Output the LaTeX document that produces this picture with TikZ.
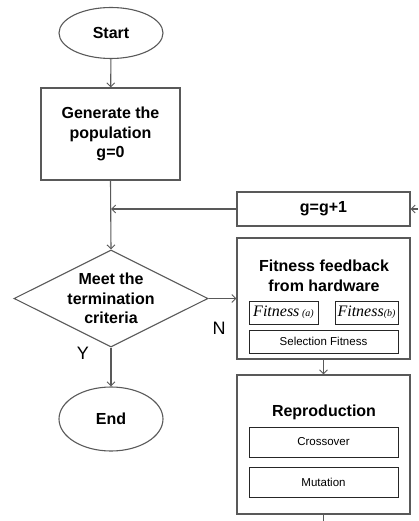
\documentclass[tikz,border=0pt]{standalone}
\usepackage{fontspec}
\setmainfont{Liberation Sans}
\newfontfamily\timesf{Liberation Serif}
\usetikzlibrary{shapes.geometric,arrows.meta}
\tikzset{
  ln/.style={draw=black!65, line width=1.1pt},
  arr/.style={ln, -{Straight Barb[length=4pt,width=8pt,line width=0.9pt]}},
  bigt/.style={font=\fontsize{16}{19.5}\selectfont\bfseries, align=center},
  term/.style={ellipse, ln, inner sep=0pt, minimum width=104pt},
  mainbox/.style={rectangle, ln, inner sep=0pt, minimum width=173pt},
  subbox/.style={rectangle, draw=black!85, line width=0.9pt, inner sep=0pt, font=\fontsize{11.5}{13}\selectfont},
  yn/.style={font=\fontsize{18}{20}\selectfont},
}
\begin{document}
\begin{tikzpicture}[x=1pt,y=-1pt]
\useasboundingbox (0,0) rectangle (418,521);
% left column
\node[term, minimum height=51pt, bigt] (start) at (111,33) {Start};
\node[rectangle, ln, inner sep=0pt, minimum width=139pt, minimum height=92pt, bigt] (gen) at (110.5,134) {Generate the\\population\\g=0};
\node[diamond, ln, inner sep=0pt, minimum width=194pt, minimum height=97pt] (dec) at (111,298.5) {};
\node[bigt] (dect) at (dec.center) {Meet the\\termination\\criteria};
\node[term, minimum height=64pt, bigt] (end) at (111,419) {End};
% right column
\node[mainbox, minimum height=34pt, bigt] (gbox) at (323.5,209) {g=g+1};
\node[mainbox, minimum height=121pt] (fit) at (323.5,298.5) {};
\node[bigt] (fitt) at (324,276) {Fitness feedback\\from hardware};
\node[subbox, minimum width=69pt, minimum height=23pt] (fa) at (283.5,312.5) {\timesf\itshape\fontsize{16}{16}\selectfont Fitness\,{\fontsize{10}{10}\selectfont(a)}};
\node[subbox, minimum width=63pt, minimum height=23pt] (fb) at (366.5,312.5) {\timesf\itshape\fontsize{16}{16}\selectfont Fitness{\fontsize{10}{10}\selectfont(b)}};
\node[subbox, minimum width=149pt, minimum height=23pt] (sel) at (323.5,341.5) {Selection Fitness};
\node[mainbox, minimum height=139pt] (rep) at (323.5,444.5) {};
\node[bigt] (rept) at (324,412) {Reproduction};
\node[subbox, minimum width=149pt, minimum height=30pt] (cro) at (323.5,442) {Crossover};
\node[subbox, minimum width=149pt, minimum height=30pt] (mut) at (323.5,482) {Mutation};
% labels
\node[yn] (nlab) at (219,328) {N};
\node[yn] (ylab) at (83,353) {Y};
% connectors
\coordinate (fbin) at (418,209);
\coordinate (repout) at (323.5,521);
\coordinate (join) at (111,209);
\draw[arr] (start) -- (gen);
\draw[arr] (gen.south) -- (dec.north);
\draw[arr] (gbox.west) -- (join);
\draw[arr] (fbin) -- (gbox.east);
\draw[arr] (dec.east) -- (fit.west);
\draw[arr] (fit.south) -- (rep.north);
\draw[ln] (rep.south) -- (repout);
\draw[arr] (dec.south) -- (end.north);
\end{tikzpicture}
\end{document}
